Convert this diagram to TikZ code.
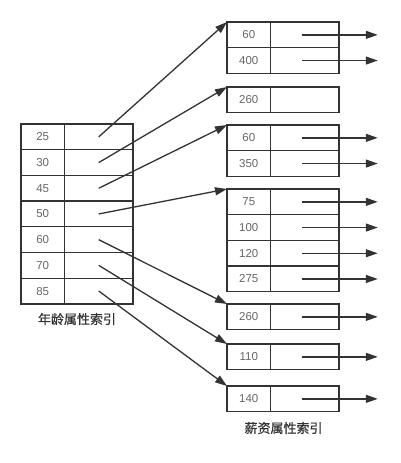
\documentclass[tikz,border=0pt]{standalone}
\usepackage{fontspec}
\setmainfont{Liberation Sans}
\newfontfamily\cjkfont[FakeBold=0.6]{Noto Sans CJK SC}
\usetikzlibrary{arrows.meta}
\definecolor{linegray}{HTML}{333333}
\definecolor{textgray}{HTML}{666666}
\tikzset{
  cell/.style={draw=linegray, line width=1.3pt, minimum height=25.7pt, inner sep=0pt, outer sep=0pt, font=\fontsize{11.5}{13}\selectfont, text=textgray},
  keycell/.style={cell, minimum width=43.5pt},
  ptrcell/.style={cell, minimum width=68.5pt},
  link/.style={draw=linegray, line width=1.3pt, -{Triangle[length=12pt,width=8pt]}},
  caption/.style={font=\cjkfont\fontsize{13}{15}\selectfont, text=linegray},
}

\begin{document}
\begin{tikzpicture}[x=1pt, y=-1pt]
    \useasboundingbox (0,0) rectangle (400,463);

    %%%%% age index %%%%%
    \foreach \val [count=\i] in {25,30,45,50,60,70,85} {
        \node[keycell, anchor=north west] (age\i) at (21, {124+(\i-1)*25.7}) {\val};
        \node[ptrcell, anchor=west] (agep\i) at (age\i.east) {};
    }
    \node[caption] (agecap) at (77, 319) {年龄属性索引};

    %%%%% salary index %%%%%
    \foreach \top/\vals [count=\g] in {22/{60,400}, 87/{260}, 125/{60,350}, 189/{75,100,120,275}, 304/{260}, 344/{110}, 386/{140}} {
        \foreach \val [count=\r] in \vals {
            \node[keycell, anchor=north west] (sal\g-\r) at (227, {\top+(\r-1)*25.7}) {\val};
            \node[ptrcell, anchor=west] (salp\g-\r) at (sal\g-\r.east) {};
        }
    }
    \node[caption] (salcap) at (283.5, 428) {薪资属性索引};

    %%%%% age -> salary %%%%%
    \foreach \i in {1,...,7} {
        \draw[link] (agep\i.center) -- (sal\i-1.north west);
    }

    %%%%% salary -> rows %%%%%
    \foreach \g/\r in {1/1, 1/2, 3/1, 3/2, 4/1, 4/2, 4/3, 4/4, 5/1, 6/1, 7/1} {
        \coordinate (out\g-\r) at ([xshift=73pt]salp\g-\r.center);
        \draw[link] ([xshift=-3pt]salp\g-\r.center) -- (out\g-\r);
    }
\end{tikzpicture}
\end{document}
